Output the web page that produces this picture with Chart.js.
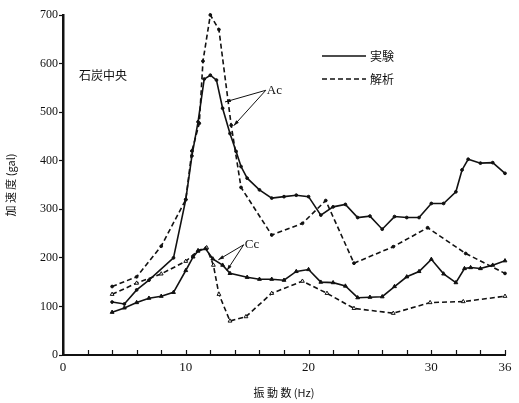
<!DOCTYPE html>
<html>
<head>
<meta charset="utf-8">
<script src="https://cdn.jsdelivr.net/npm/chart.js@4.4.1/dist/chart.umd.min.js"></script>
<style>
  html, body { margin: 0; padding: 0; background: #fff; }
  #wrap { width: 519px; height: 403px; }
</style>
</head>
<body>
<div id="wrap"><canvas id="c" width="519" height="403"></canvas></div>
<script>
// 振動数 (Hz) and 加速度 (gal) for each curve
const acExpHz  = [4, 5, 6, 7, 9, 10, 10.5, 11, 11.5, 12, 12.5, 13, 13.6, 14.1, 14.5, 15, 16, 17, 18, 19, 20, 21, 22, 23, 24, 25, 26, 27, 28, 29, 30, 31, 32, 32.5, 33, 34, 35, 36];
const acExpVal = [109, 105, 134, 154, 200, 320, 410, 480, 568, 576, 566, 508, 456, 419, 388, 364, 340, 323, 326, 329, 326, 288, 305, 310, 283, 286, 259, 285, 283, 283, 312, 312, 336, 381, 403, 395, 396, 374];

const acAnaHz  = [4, 6, 8, 10, 10.5, 11.1, 11.4, 12, 12.7, 13.7, 14.5, 17, 19.5, 21.4, 23.7, 26.9, 29.7, 32.8, 36];
const acAnaVal = [141, 161, 224, 320, 420, 477, 605, 700, 670, 473, 345, 247, 271, 318, 189, 223, 262, 209, 168];

const ccExpHz  = [4, 5, 6, 7, 8, 9, 10, 10.6, 11, 11.6, 12.2, 13, 13.6, 15, 16, 17, 18, 19, 20, 21, 22, 23, 24, 25, 26, 27, 28, 29, 30, 31, 32, 32.7, 33.2, 34, 35, 36];
const ccExpVal = [88, 97, 108, 117, 121, 129, 174, 202, 214, 219, 198, 185, 168, 160, 156, 156, 154, 172, 176, 150, 149, 142, 118, 119, 120, 141, 161, 172, 197, 167, 149, 178, 180, 178, 185, 194];

const ccAnaHz  = [4, 6, 8, 10, 11, 11.7, 12.25, 12.7, 13.6, 14.9, 17, 19.5, 21.5, 23.7, 26.9, 29.9, 32.6, 36];
const ccAnaVal = [125, 148, 167, 193, 215, 221, 185, 125, 70, 79, 127, 152, 127, 96, 86, 108, 110, 121];

const xTickValues = [0, 2, 4, 6, 8, 10, 12, 14, 16, 18, 20, 22, 24, 26, 28, 30, 32, 34, 36];
const xTickLabels = [0, 10, 20, 30, 36];
const yTickValues = [0, 100, 200, 300, 400, 500, 600, 700];

const legendLabels = ['実験', '解析'];

function pts(xs, ys) { return xs.map((x, i) => ({ x: x, y: ys[i] })); }

const serif = '"Liberation Serif", "DejaVu Serif", serif';
const jp = '"Noto Sans CJK JP", sans-serif';

// Inward x ticks, the legend and the curve annotations
const decor = {
  id: 'decor',
  afterDraw(chart) {
    const ctx = chart.ctx;
    const xs = chart.scales.x, ys = chart.scales.y;
    const area = chart.chartArea;
    ctx.save();
    ctx.strokeStyle = '#111';
    ctx.fillStyle = '#111';
    // x ticks pointing into the plot
    ctx.lineWidth = 1.2;
    xTickValues.forEach(v => {
      const px = Math.round(xs.getPixelForValue(v)) + 0.5;
      ctx.beginPath();
      ctx.moveTo(px, area.bottom);
      ctx.lineTo(px, area.bottom - 5);
      ctx.stroke();
    });
    // legend
    ctx.lineWidth = 1.6;
    ctx.beginPath();
    ctx.moveTo(322, 56); ctx.lineTo(366, 56);
    ctx.stroke();
    ctx.setLineDash([5, 3]);
    ctx.beginPath();
    ctx.moveTo(322, 79); ctx.lineTo(366, 79);
    ctx.stroke();
    ctx.setLineDash([]);
    ctx.font = '12px ' + jp;
    ctx.textBaseline = 'middle';
    ctx.textAlign = 'left';
    ctx.fillText(legendLabels[0], 370, 56);
    ctx.fillText(legendLabels[1], 370, 79);
    // site name
    ctx.fillText('石炭中央', 79, 75);
    // curve labels with leader arrows
    ctx.font = '13px ' + serif;
    const acX = xs.getPixelForValue(16.6), acY = ys.getPixelForValue(545);
    ctx.fillText('Ac', acX, acY);
    const ccX = xs.getPixelForValue(14.8), ccY = ys.getPixelForValue(227);
    ctx.fillText('Cc', ccX, ccY);
    function arrow(x0, y0, hz, val) {
      const x1 = xs.getPixelForValue(hz), y1 = ys.getPixelForValue(val);
      ctx.lineWidth = 1;
      ctx.beginPath();
      ctx.moveTo(x0, y0); ctx.lineTo(x1, y1);
      ctx.stroke();
      const a = Math.atan2(y1 - y0, x1 - x0);
      ctx.beginPath();
      ctx.moveTo(x1, y1);
      ctx.lineTo(x1 - 6 * Math.cos(a - 0.3), y1 - 6 * Math.sin(a - 0.3));
      ctx.lineTo(x1 - 6 * Math.cos(a + 0.3), y1 - 6 * Math.sin(a + 0.3));
      ctx.closePath();
      ctx.fill();
    }
    arrow(acX - 1, acY, 13.2, 521);
    arrow(acX - 1, acY, 13.9, 472);
    arrow(ccX - 1, ccY, 12.65, 196);
    arrow(ccX - 1, ccY, 13.35, 174);
    ctx.restore();
  }
};

new Chart(document.getElementById('c'), {
  type: 'line',
  data: {
    datasets: [
      {
        label: 'Ac 実験',
        data: pts(acExpHz, acExpVal),
        borderColor: '#111', backgroundColor: '#111', borderWidth: 1.6,
        pointStyle: 'circle', pointRadius: 1.4, pointBorderWidth: 1, tension: 0
      },
      {
        label: 'Ac 解析',
        data: pts(acAnaHz, acAnaVal),
        borderColor: '#111', backgroundColor: '#111', borderWidth: 1.6, borderDash: [5, 3],
        pointStyle: 'circle', pointRadius: 1.4, pointBorderWidth: 1, tension: 0
      },
      {
        label: 'Cc 実験',
        data: pts(ccExpHz, ccExpVal),
        borderColor: '#111', backgroundColor: '#111', borderWidth: 1.6,
        pointStyle: 'triangle', pointRadius: 2.2, pointBorderWidth: 1, tension: 0
      },
      {
        label: 'Cc 解析',
        data: pts(ccAnaHz, ccAnaVal),
        borderColor: '#111', backgroundColor: '#fff', borderWidth: 1.6, borderDash: [5, 3],
        pointStyle: 'triangle', pointRadius: 2.2, pointBorderWidth: 1, tension: 0
      }
    ]
  },
  options: {
    responsive: false,
    animation: false,
    devicePixelRatio: 1,
    clip: false,
    layout: { padding: { left: 0, right: 14, top: 15, bottom: 0 } },
    plugins: { legend: { display: false }, tooltip: { enabled: false } },
    scales: {
      x: {
        type: 'linear', min: 0, max: 36,
        afterBuildTicks: s => { s.ticks = xTickValues.map(v => ({ value: v })); },
        afterFit: s => { s.height = 48; },
        grid: { display: true, drawOnChartArea: false, drawTicks: false },
        border: { display: true, color: '#111', width: 2 },
        ticks: {
          autoSkip: false, maxRotation: 0, padding: 5,
          color: '#111', font: { family: serif, size: 13 },
          callback: v => xTickLabels.includes(v) ? String(v) : ''
        },
        title: {
          display: true, text: '振 動 数 (Hz)', color: '#111',
          font: { family: jp, size: 11 }, padding: { top: 6 }
        }
      },
      y: {
        min: 0, max: 700,
        afterBuildTicks: s => { s.ticks = yTickValues.map(v => ({ value: v })); },
        afterFit: s => { s.width = 63; },
        grid: { display: true, drawOnChartArea: false, drawTicks: true, tickLength: 4, color: '#111', tickWidth: 1.2 },
        border: { display: true, color: '#111', width: 2.5 },
        ticks: { color: '#111', font: { family: serif, size: 12 }, padding: 1 },
        title: {
          display: true, text: '加 速 度 (gal)', color: '#111',
          font: { family: jp, size: 11 }, padding: { bottom: 2 }
        }
      }
    }
  },
  plugins: [decor]
});
</script>
</body>
</html>
